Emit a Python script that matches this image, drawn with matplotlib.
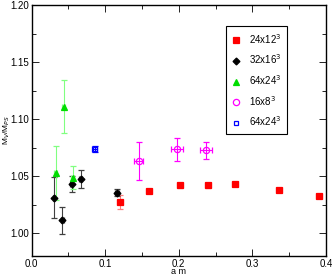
import matplotlib
matplotlib.use('Agg')
import matplotlib.pyplot as plt
from matplotlib.ticker import MultipleLocator
from matplotlib.lines import Line2D

plt.rcParams['font.family'] = ['Liberation Sans', 'DejaVu Sans']

# 24x12^3
am_a = [0.120, 0.160, 0.2017, 0.240, 0.276, 0.336, 0.391]
r_a = [1.0273, 1.0368, 1.042, 1.042, 1.0432, 1.038, 1.0324]
ry_a = [0.006, 0.002, 0.002, 0.002, 0.002, 0.002, 0.002]
rx_a = [0.004, 0.004, 0.004, 0.004, 0.004, 0.004, 0.004]

# 32x16^3
am_b = [0.0303, 0.0416, 0.0547, 0.0669, 0.116]
r_b = [1.0312, 1.0112, 1.043, 1.0476, 1.0356]
ry_b = [0.0176, 0.012, 0.007, 0.0078, 0.003]
rx_b = [0.002, 0.002, 0.002, 0.002, 0.003]

# 64x24^3 (triangles)
am_c = [0.0326, 0.0438, 0.0556]
r_c = [1.0529, 1.111, 1.0485]
ry_c = [0.0236, 0.0232, 0.010]
rx_c = [0.002, 0.002, 0.002]

# 16x8^3
am_d = [0.1456, 0.198, 0.237]
r_d = [1.0635, 1.0735, 1.0727]
ry_d = [0.0166, 0.010, 0.0075]
rx_d = [0.006, 0.008, 0.008]

# 64x24^3 (open squares)
am_e = [0.0855]
r_e = [1.0738]
ry_e = [0.003]
rx_e = [0.003]

xticks = [0.0, 0.1, 0.2, 0.3, 0.4]
yticks = [1.00, 1.05, 1.10, 1.15, 1.20]

fig = plt.figure(figsize=(3.32, 2.77), dpi=100)
ax = fig.add_axes([0.0955, 0.076, 0.886, 0.906])

styles = [
    dict(marker='s', color='red', mfc='red', ms=4, ecolor='#ff8080', label='24x12$^3$'),
    dict(marker='D', color='black', mfc='black', ms=3.5, ecolor='#404040', label='32x16$^3$'),
    dict(marker='^', color='#00dd00', mfc='#00dd00', ms=4, ecolor='#80ff80', label='64x24$^3$'),
    dict(marker='o', color='#ff00ff', mfc='none', ms=4.5, ecolor='#ff00ff', label='16x8$^3$'),
    dict(marker='s', color='blue', mfc='none', ms=3.5, ecolor='blue', label='64x24$^3$'),
]
series = [(am_a, r_a, rx_a, ry_a), (am_b, r_b, rx_b, ry_b), (am_c, r_c, rx_c, ry_c),
          (am_d, r_d, rx_d, ry_d), (am_e, r_e, rx_e, ry_e)]

handles = []
for (x, y, xe, ye), st in zip(series, styles):
    ax.errorbar(x, y, yerr=ye, xerr=xe, fmt=st['marker'], color=st['color'], mfc=st['mfc'],
                ecolor=st['ecolor'], ms=st['ms'], mew=0.9, elinewidth=0.8, capsize=2)
    handles.append(Line2D([], [], ls='none', marker=st['marker'], color=st['color'],
                          mfc=st['mfc'], ms=st['ms'], mew=0.9, label=st['label']))

ax.set_xlim(0.0, 0.4)
ax.set_ylim(0.98, 1.20)
ax.set_xticks(xticks)
ax.set_xticklabels(['0.0', '0.1', '0.2', '0.3', '0.4'])
ax.set_yticks(yticks)
ax.set_yticklabels(['1.00', '1.05', '1.10', '1.15', '1.20'])
ax.xaxis.set_minor_locator(MultipleLocator(0.05))
ax.yaxis.set_minor_locator(MultipleLocator(0.025))
ax.tick_params(which='both', direction='in', top=True, right=True, labelsize=7, pad=2)
ax.tick_params(which='major', length=5, width=0.6)
ax.tick_params(which='minor', length=3, width=0.6)
for s in ax.spines.values():
    s.set_linewidth(1.0)

ax.set_xlabel('a m', fontsize=6.5)
ax.xaxis.set_label_coords(0.5, -0.045)
ax.set_ylabel('M$_V$/M$_{PS}$', fontsize=6)
ax.yaxis.set_label_coords(-0.068, 0.5)

leg = ax.legend(handles=handles, loc='upper right', bbox_to_anchor=(0.885, 0.935), fontsize=7,
                fancybox=False, edgecolor='black', framealpha=1, handlelength=1,
                borderpad=0.6, labelspacing=0.7)
leg.get_frame().set_linewidth(0.8)

fig.savefig('out.png', dpi=100)
